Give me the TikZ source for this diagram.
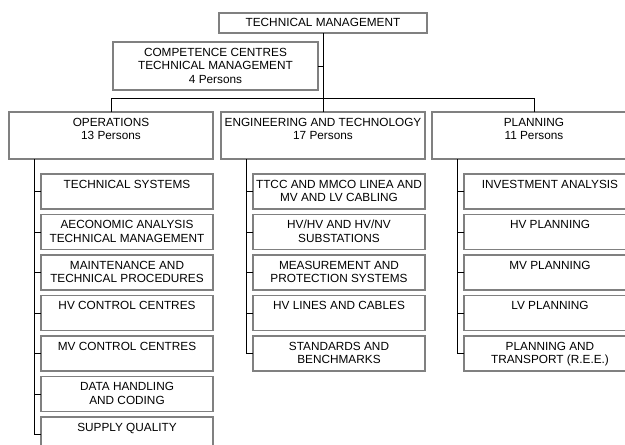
\documentclass[tikz,border=0pt]{standalone}
\usepackage{fontspec}
\setmainfont{Liberation Sans}
\usetikzlibrary{calc}
\definecolor{boxgray}{RGB}{128,128,128}
\tikzset{
  box/.style={rectangle, draw=boxgray, line width=1.6pt, fill=white, inner sep=0pt, outer sep=0pt},
  lbl/.style={anchor=north, inner sep=0pt, outer sep=0pt, align=center, font=\fontsize{11.8}{13.8}\selectfont},
  link/.style={draw=black, line width=0.8pt},
}
% \orgbox{name}{x1}{y1}{x2}{y2}{text}: framed box with its text set near the top
\newcommand\orgbox[6]{%
  \node[box, minimum width={#4-#2}, minimum height={#5-#3}] (#1) at ({(#2+#4)/2},{(#3+#5)/2}) {};
  \node[lbl] (#1-txt) at ($(#1.north)+(0,5.8)$) {#6};
}
\begin{document}
\begin{tikzpicture}[x=1pt,y=-1pt]
\useasboundingbox (0,0) rectangle (625,445);
\clip (0,0) rectangle (625,445);

% head and staff unit
\node[box, minimum width=208, minimum height=20.3, font=\fontsize{11.8}{13.8}\selectfont] (top) at (323,22.85) {TECHNICAL MANAGEMENT};
\orgbox{comp}{113}{42}{318}{90}{COMPETENCE CENTRES\\TECHNICAL MANAGEMENT\\4 Persons}

% departments
\orgbox{ops}{9}{112}{213}{159}{OPERATIONS\\13 Persons}
\orgbox{eng}{221}{112}{425}{159}{ENGINEERING AND TECHNOLOGY\\17 Persons}
\orgbox{plan}{432}{112}{636}{159}{PLANNING\\11 Persons}

% operations units
\orgbox{ops1}{41}{174}{213}{209}{TECHNICAL SYSTEMS}
\orgbox{ops2}{41}{214.5}{213}{249.5}{AECONOMIC ANALYSIS\\TECHNICAL MANAGEMENT}
\orgbox{ops3}{41}{255}{213}{290}{MAINTENANCE AND\\TECHNICAL PROCEDURES}
\orgbox{ops4}{41}{295.5}{213}{330.5}{HV CONTROL CENTRES}
\orgbox{ops5}{41}{336}{213}{371}{MV CONTROL CENTRES}
\orgbox{ops6}{41}{376.5}{213}{411.5}{DATA HANDLING\\AND CODING}
\orgbox{ops7}{41}{417}{213}{452}{SUPPLY QUALITY}

% engineering units
\orgbox{eng1}{253}{174}{425}{209}{TTCC AND MMCO LINEA AND\\MV AND LV CABLING}
\orgbox{eng2}{253}{214.5}{425}{249.5}{HV/HV AND HV/NV\\SUBSTATIONS}
\orgbox{eng3}{253}{255}{425}{290}{MEASUREMENT AND\\PROTECTION SYSTEMS}
\orgbox{eng4}{253}{295.5}{425}{330.5}{HV LINES AND CABLES}
\orgbox{eng5}{253}{336}{425}{371}{STANDARDS AND\\BENCHMARKS}

% planning units
\orgbox{plan1}{464}{174}{636}{209}{INVESTMENT ANALYSIS}
\orgbox{plan2}{464}{214.5}{636}{249.5}{HV PLANNING}
\orgbox{plan3}{464}{255}{636}{290}{MV PLANNING}
\orgbox{plan4}{464}{295.5}{636}{330.5}{LV PLANNING}
\orgbox{plan5}{464}{336}{636}{371}{PLANNING AND\\TRANSPORT (R.E.E.)}

% top-level connectors
\draw[link] (top.south) -- (eng.north);
\draw[link] (comp.east) -- (comp.east -| top.south);
\draw[link] (ops.north) -- ++(0,-14) -| (plan.north);

% spines down each department
\coordinate (ops-sp) at ($(ops.south west)+(25,0)$);
\coordinate (eng-sp) at ($(eng.south west)+(25,0)$);
\coordinate (plan-sp) at ($(plan.south west)+(25,0)$);
\draw[link] (ops-sp) |- (ops7.west);
\foreach \i in {1,...,6} \draw[link] (ops-sp |- ops\i.west) -- (ops\i.west);
\draw[link] (eng-sp) |- (eng5.west);
\foreach \i in {1,...,4} \draw[link] (eng-sp |- eng\i.west) -- (eng\i.west);
\draw[link] (plan-sp) |- (plan5.west);
\foreach \i in {1,...,4} \draw[link] (plan-sp |- plan\i.west) -- (plan\i.west);
\end{tikzpicture}
\end{document}
